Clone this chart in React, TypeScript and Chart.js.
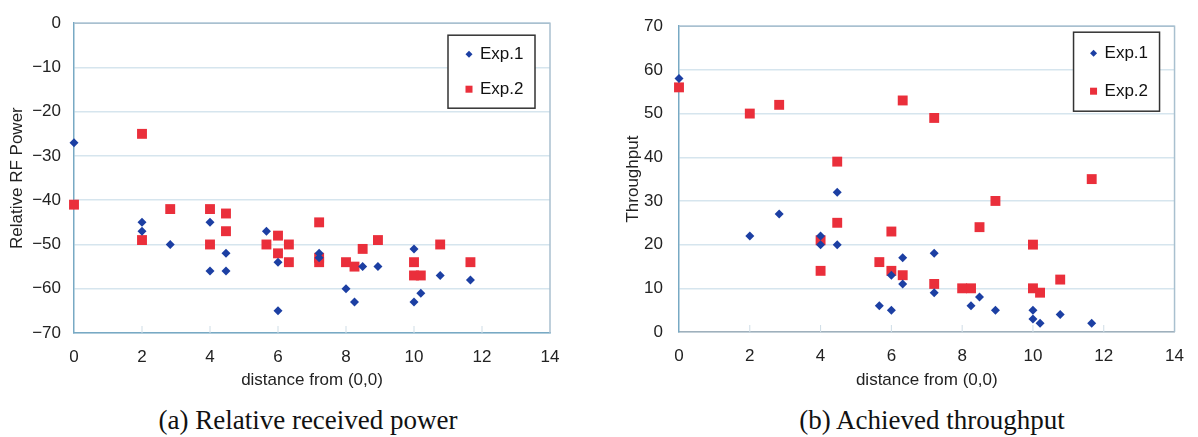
import React, { useEffect, useRef } from "react";
import { Chart, registerables } from "chart.js";

Chart.register(...registerables);
Chart.defaults.font.family = "'Liberation Sans', Arial, sans-serif";
Chart.defaults.color = "#222";

// ---- Data ----
const seriesNames = ["Exp.1", "Exp.2"];

const powerExp1X = [0, 2, 2, 2.83, 4, 4, 4.47, 4.47, 5.66, 6, 6, 7.21, 7.21, 8, 8.25, 8.49, 8.94, 10, 10, 10.2, 10.77, 11.66];
const powerExp1Y = [-27, -45, -47, -50, -45, -56, -52, -56, -47, -54, -65, -52, -53, -60, -63, -55, -55, -51, -63, -61, -57, -58];
const powerExp2X = [0, 2, 2, 2.83, 4, 4, 4.47, 4.47, 5.66, 6, 6, 6.32, 6.32, 7.21, 7.21, 7.21, 8, 8.25, 8.49, 8.94, 10, 10, 10.2, 10.77, 11.66];
const powerExp2Y = [-41, -25, -49, -42, -42, -50, -43, -47, -50, -48, -52, -50, -54, -45, -53, -54, -54, -55, -51, -49, -54, -57, -57, -50, -54];

const tputExp1X = [0, 2, 2.83, 4, 4, 4.47, 4.47, 5.66, 6, 6, 6.32, 6.32, 7.21, 7.21, 8.25, 8.49, 8.94, 10, 10, 10.2, 10.77, 11.66];
const tputExp1Y = [58, 22, 27, 22, 20, 32, 20, 6, 13, 5, 17, 11, 18, 9, 6, 8, 5, 5, 3, 2, 4, 2];
const tputExp2X = [0, 2, 2.83, 4, 4, 4.47, 4.47, 5.66, 6, 6, 6.32, 6.32, 7.21, 7.21, 8, 8.25, 8.49, 8.94, 10, 10, 10.2, 10.77, 11.66];
const tputExp2Y = [56, 50, 52, 21, 14, 39, 25, 16, 23, 14, 53, 13, 49, 11, 10, 10, 24, 30, 20, 10, 9, 12, 35];

const xRange = [0, 14, 2];
const powerRange = [-70, 0, 10];
const tputRange = [0, 70, 10];

const xTitle = "distance from (0,0)";
const powerTitle = "Relative RF Power";
const tputTitle = "Throughput";
const captionA = "(a) Relative received power";
const captionB = "(b) Achieved throughput";

// ---- Styles ----
const BLUE = "#1c3fa3";
const RED = "#ea2f3b";
const GRID = "#d6e5ee";
const AXIS = "#78a9c4";
const FRAME = "#a9c0cf";

const zip = (xs: number[], ys: number[]) => xs.map((x, i) => ({ x, y: ys[i] }));

const framePlugin = {
  id: "frame",
  beforeDatasetsDraw(chart: any) {
    const { ctx, chartArea: a } = chart;
    ctx.save();
    ctx.strokeStyle = FRAME;
    ctx.lineWidth = 1.5;
    ctx.beginPath();
    ctx.moveTo(a.left, a.top);
    ctx.lineTo(a.right, a.top);
    ctx.lineTo(a.right, a.bottom);
    ctx.stroke();
    // small inside tick marks on the x axis
    const xs = chart.scales.x;
    ctx.strokeStyle = "#cfdde6";
    ctx.lineWidth = 1;
    xs.ticks.forEach((t: any) => {
      const px = xs.getPixelForValue(t.value);
      if (px <= a.left + 1 || px >= a.right - 1) return;
      ctx.beginPath();
      ctx.moveTo(px, a.bottom);
      ctx.lineTo(px, a.bottom - 7);
      ctx.stroke();
    });
    ctx.restore();
  },
};

const boxLegendPlugin = {
  id: "boxLegend",
  afterDraw(chart: any, _args: any, opts: any) {
    const { ctx, chartArea: a } = chart;
    const w = opts.width, h = opts.height;
    const x = a.right - opts.right - w;
    const y = a.top + opts.top;
    ctx.save();
    ctx.fillStyle = "#fff";
    ctx.fillRect(x, y, w, h);
    ctx.strokeStyle = "#333";
    ctx.lineWidth = 1.5;
    ctx.strokeRect(x, y, w, h);
    ctx.font = "17px 'Liberation Sans', Arial, sans-serif";
    ctx.textBaseline = "middle";
    ctx.fillStyle = "#111";
    chart.data.datasets.forEach((ds: any, i: number) => {
      const cy = y + opts.rows[i];
      const mx = x + opts.markerX;
      ctx.fillStyle = ds.backgroundColor;
      if (ds.pointStyle === "rectRot") {
        const r = 3.5;
        ctx.beginPath();
        ctx.moveTo(mx, cy - r);
        ctx.lineTo(mx + r, cy);
        ctx.lineTo(mx, cy + r);
        ctx.lineTo(mx - r, cy);
        ctx.closePath();
        ctx.fill();
      } else {
        ctx.fillRect(mx - 3.5, cy - 3.5, 7, 7);
      }
      ctx.fillStyle = "#111";
      ctx.fillText(ds.label, x + opts.textX, cy);
    });
    ctx.restore();
  },
};

function makeConfig(
  d1: { x: number; y: number }[],
  d2: { x: number; y: number }[],
  yRange: number[],
  yTitle: string,
  geom: any
) {
  return {
    type: "scatter",
    data: {
      datasets: [
        {
          label: seriesNames[0],
          data: d1,
          pointStyle: "rectRot",
          pointRadius: 4.5,
          backgroundColor: BLUE,
          borderColor: BLUE,
          borderWidth: 0,
          clip: false,
        },
        {
          label: seriesNames[1],
          data: d2,
          pointStyle: "rect",
          pointRadius: 7,
          backgroundColor: RED,
          borderColor: RED,
          borderWidth: 0,
          clip: false,
        },
      ],
    },
    options: {
      responsive: false,
      animation: false,
      events: [],
      layout: { padding: { left: 0, top: geom.top, right: geom.right, bottom: 0 } },
      plugins: {
        legend: { display: false },
        tooltip: { enabled: false },
        boxLegend: geom.legend,
      },
      scales: {
        x: {
          type: "linear",
          min: xRange[0],
          max: xRange[1],
          ticks: { stepSize: xRange[2], padding: 14, font: { size: 17 }, color: "#222" },
          grid: { display: false, drawTicks: false },
          border: { display: true, color: geom.xAxisColor, width: 1.5 },
          title: {
            display: true,
            text: xTitle,
            font: { size: 17 },
            color: "#222",
            padding: { top: 0, bottom: 4 },
          },
          afterFit: (s: any) => {
            s.height = geom.xHeight;
          },
        },
        y: {
          type: "linear",
          min: yRange[0],
          max: yRange[1],
          ticks: {
            stepSize: yRange[2],
            padding: geom.yTickPad,
            font: { size: 17 },
            color: "#222",
            callback: (v: any) => String(v).replace("-", "\u2212"),
          },
          grid: { color: GRID, lineWidth: 1.5, drawTicks: false },
          border: { display: true, color: AXIS, width: 1.5 },
          title: {
            display: true,
            text: yTitle,
            font: { size: 17 },
            color: "#222",
            padding: { top: geom.yTitlePad, bottom: 0 },
          },
          afterFit: (s: any) => {
            s.width = geom.yWidth;
          },
        },
      },
    },
    plugins: [framePlugin, boxLegendPlugin],
  };
}

function ChartCanvas({ config, width, height, left }: any) {
  const ref = useRef<HTMLCanvasElement | null>(null);
  useEffect(() => {
    if (!ref.current) return;
    const chart = new Chart(ref.current, config as any);
    return () => chart.destroy();
  }, []);
  return (
    <canvas
      ref={ref}
      width={width}
      height={height}
      style={{ position: "absolute", left, top: 0, width, height }}
    />
  );
}

export default function App() {
  const cfgA = makeConfig(zip(powerExp1X, powerExp1Y), zip(powerExp2X, powerExp2Y), powerRange, powerTitle, {
    top: 21,
    right: 50,
    xHeight: 62,
    yWidth: 74,
    yTickPad: 13,
    yTitlePad: 7,
    xAxisColor: AXIS,
    legend: { width: 87, height: 73, right: 15, top: 12, rows: [19, 54], markerX: 21, textX: 32 },
  });
  const cfgB = makeConfig(zip(tputExp1X, tputExp1Y), zip(tputExp2X, tputExp2Y), tputRange, tputTitle, {
    top: 19,
    right: 18,
    xHeight: 63,
    yWidth: 79,
    yTickPad: 16,
    yTitlePad: 23,
    xAxisColor: "#9fb0bc",
    legend: { width: 86, height: 79, right: 15, top: 6, rows: [21, 59], markerX: 20, textX: 31 },
  });
  const captionStyle: any = {
    position: "absolute",
    top: 404,
    fontFamily: "'Liberation Serif', 'Times New Roman', serif",
    fontSize: 27,
    lineHeight: "32px",
    whiteSpace: "nowrap",
    color: "#111",
    transform: "translateX(-50%)",
  };
  return (
    <div style={{ position: "absolute", left: 0, top: 0, width: 1198, height: 437, background: "#fff", overflow: "hidden" }}>
      <ChartCanvas config={cfgA} width={600} height={395} left={0} />
      <ChartCanvas config={cfgB} width={598} height={395} left={600} />
      <div style={{ ...captionStyle, left: 308 }}>{captionA}</div>
      <div style={{ ...captionStyle, left: 932 }}>{captionB}</div>
    </div>
  );
}
